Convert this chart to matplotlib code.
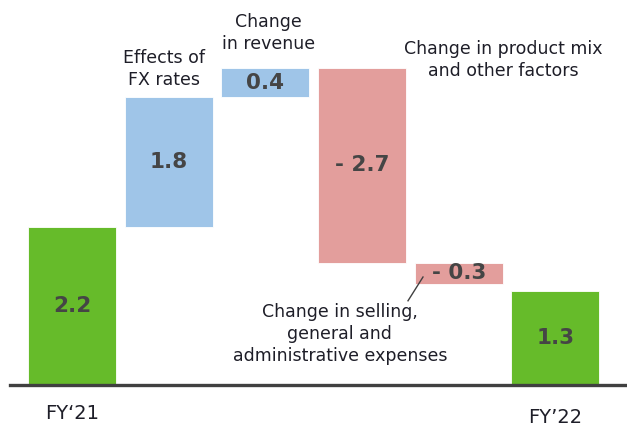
import matplotlib.pyplot as plt

# ============================
# DATA
# ============================
categories = ["FY‘21", "Effects of\nFX rates", "Change\nin revenue",
              "Change in product mix\nand other factors",
              "Change in selling,\ngeneral and\nadministrative expenses", "FY’22"]
values = [2.2, 1.8, 0.4, -2.7, -0.3, 1.3]
is_total = [True, False, False, False, False, True]

green = "#66bb2a"
blue = "#9fc5e8"
pink = "#e39e9c"
text_color = "#1e1e28"
value_color = "#454545"

# ============================
# WATERFALL
# ============================
fig = plt.figure(figsize=(6.27, 4.26), dpi=100)
ax = fig.add_axes([0, 0, 1, 1])
ax.set_xlim(-0.745, 5.74)
ax.set_ylim(-0.569, 5.347)
ax.axis("off")

running = 0.0
bottoms, heights, colors = [], [], []
for v, tot in zip(values, is_total):
    if tot:
        bottoms.append(0)
        heights.append(v)
        colors.append(green)
        running = v
    else:
        if v >= 0:
            bottoms.append(running)
            heights.append(v)
            colors.append(blue)
        else:
            bottoms.append(running + v)
            heights.append(-v)
            colors.append(pink)
        running += v

x = list(range(len(values)))
ax.bar(x, heights, bottom=bottoms, width=0.91, color=colors,
       edgecolor="white", linewidth=0.6, zorder=2)

# valores dentro de las barras
for xi, v, b, h in zip(x, values, bottoms, heights):
    txt = f"- {abs(v):.1f}" if v < 0 else f"{v:.1f}"
    ax.text(xi, b + h / 2, txt, ha="center", va="center", fontsize=15.5,
            fontweight="bold", color=value_color, zorder=3)

# línea base
ax.plot([-0.64, 5.74], [0, 0], color="#404040", linewidth=2.4, zorder=3)

# etiquetas de categoría
fs = 12.5
ax.text(0, -0.39, categories[0], ha="center", va="center", fontsize=14, color=text_color)
ax.text(5, -0.45, categories[5], ha="center", va="center", fontsize=14, color=text_color)
ax.text(0.95, 4.39, categories[1], ha="center", va="center", fontsize=fs,
        color=text_color, linespacing=1.3)
ax.text(2.03, 4.89, categories[2], ha="center", va="center", fontsize=fs,
        color=text_color, linespacing=1.3)
ax.text(4.46, 4.51, categories[3], ha="center", va="center", fontsize=fs,
        color=text_color, linespacing=1.3)
ax.text(2.77, 0.71, categories[4], ha="center", va="center", fontsize=fs,
        color=text_color, linespacing=1.3)

# línea guía para SG&A
ax.plot([3.475, 3.63], [1.17, 1.50], color="#404040", linewidth=1.0, zorder=3)

fig.savefig("out.png", dpi=100)
